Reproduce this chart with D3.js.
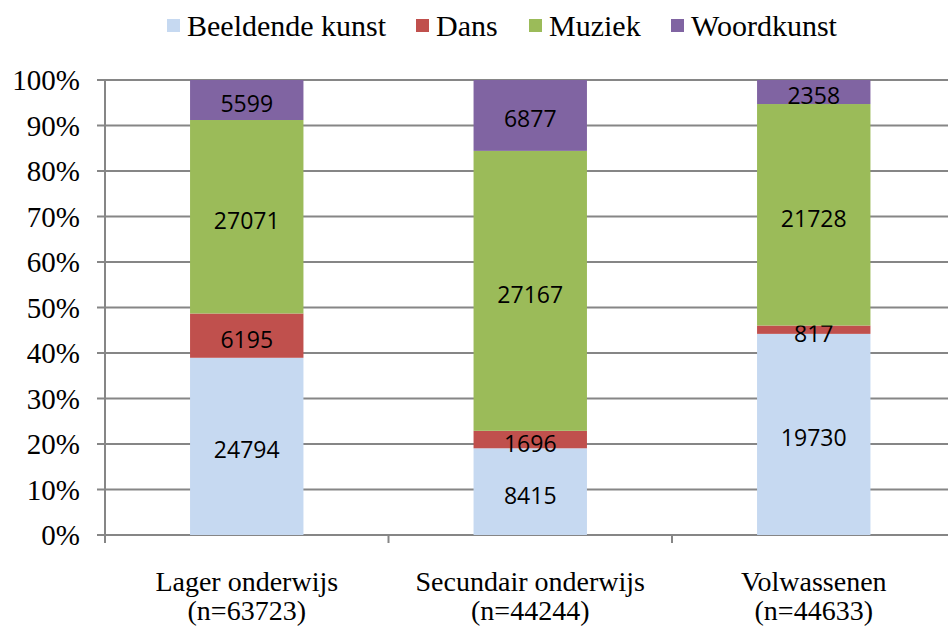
<!DOCTYPE html>
<html><head><meta charset="utf-8">
<script src="https://cdn.jsdelivr.net/npm/d3@7.9.0/dist/d3.min.js"></script></head>
<body style="margin:0">
<svg id="chart" width="948" height="628" style="display:block"></svg>
<script>
// categories and their sample sizes
const categories = ['Lager onderwijs', 'Secundair onderwijs', 'Volwassenen'];
const sampleSizes = [63723, 44244, 44633];

// series (stack order bottom -> top)
const seriesNames = ['Beeldende kunst', 'Dans', 'Muziek', 'Woordkunst'];
const seriesColors = ['#c6d9f1', '#c0504d', '#9bbb59', '#8064a2'];

// counts per category, one array per series
const beeldendeKunst = [24794, 8415, 19730];
const dans = [6195, 1696, 817];
const muziek = [27071, 27167, 21728];
const woordkunst = [5599, 6877, 2358];

const yTicks = [0, 0.1, 0.2, 0.3, 0.4, 0.5, 0.6, 0.7, 0.8, 0.9, 1];

const seriesValues = [beeldendeKunst, dans, muziek, woordkunst];

const svg = d3.select('#chart');
const width = 948;

const x = d3.scaleBand()
  .domain(categories)
  .range([105, 955.5])
  .padding(0);
const y = d3.scaleLinear().domain([0, 1]).range([535, 80]);

// build normalized stack rows
const rows = categories.map((c, i) => {
  const row = { category: c };
  seriesNames.forEach((s, j) => { row[s] = seriesValues[j][i]; });
  return row;
});
const stacked = d3.stack().keys(seriesNames).offset(d3.stackOffsetExpand)(rows);

const grid = '#868686';

// gridlines + y ticks
svg.append('g')
  .selectAll('line')
  .data(yTicks)
  .join('line')
  .attr('x1', 97)
  .attr('x2', width)
  .attr('y1', (d) => y(d))
  .attr('y2', (d) => y(d))
  .attr('stroke', grid)
  .attr('stroke-width', 2);

// y axis line
svg.append('line')
  .attr('x1', 105).attr('x2', 105)
  .attr('y1', y(1)).attr('y2', y(0) + 8)
  .attr('stroke', grid).attr('stroke-width', 2);

// category boundary ticks
svg.append('g')
  .selectAll('line')
  .data(categories.slice(1))
  .join('line')
  .attr('x1', (d) => x(d))
  .attr('x2', (d) => x(d))
  .attr('y1', y(0))
  .attr('y2', y(0) + 8)
  .attr('stroke', grid)
  .attr('stroke-width', 2);

// y labels
svg.selectAll('text.ylab')
  .data(yTicks)
  .join('text')
  .attr('class', 'ylab')
  .style('font-family', 'Liberation Serif')
  .attr('x', 80)
  .attr('y', (d) => y(d) + 10)
  .attr('text-anchor', 'end')
  .attr('font-size', 29)
  .text((d) => d3.format('.0%')(d));

// bars
const barW = x.bandwidth() * 0.4;
const layers = svg.append('g')
  .selectAll('g')
  .data(stacked)
  .join('g')
  .attr('fill', (d, i) => seriesColors[i]);

layers.selectAll('rect')
  .data((d) => d)
  .join('rect')
  .attr('x', (d) => x(d.data.category) + (x.bandwidth() - barW) / 2)
  .attr('width', barW)
  .attr('y', (d) => y(d[1]))
  .attr('height', (d) => y(d[0]) - y(d[1]));

// value labels
layers.selectAll('text')
  .data((d) => d.map((p) => ({ p, key: d.key })))
  .join('text')
  .style('font-family', 'Open Sans')
  .attr('x', (d) => x(d.p.data.category) + x.bandwidth() / 2)
  .attr('y', (d) => y((d.p[0] + d.p[1]) / 2) + 12)
  .attr('text-anchor', 'middle')
  .attr('font-size', 23)
  .attr('fill', '#000')
  .text((d) => d.p.data[d.key]);

// category labels, two lines each
const catLines = categories.flatMap((c, i) => [
  { c, text: c, y: 591 },
  { c, text: `(n=${sampleSizes[i]})`, y: 620 },
]);
svg.selectAll('text.cat')
  .data(catLines)
  .join('text')
  .attr('class', 'cat')
  .style('font-family', 'Liberation Serif')
  .attr('text-anchor', 'middle')
  .attr('font-size', 28)
  .attr('x', (d) => x(d.c) + x.bandwidth() / 2)
  .attr('y', (d) => d.y)
  .text((d) => d.text);

// legend
const legendX = [167, 416, 529, 671];
svg.selectAll('rect.leg')
  .data(seriesNames)
  .join('rect')
  .attr('class', 'leg')
  .attr('x', (d, i) => legendX[i]).attr('y', 19)
  .attr('width', 13).attr('height', 13)
  .attr('fill', (d, i) => seriesColors[i]);
svg.selectAll('text.leg')
  .data(seriesNames)
  .join('text')
  .attr('class', 'leg')
  .style('font-family', 'Liberation Serif')
  .attr('x', (d, i) => legendX[i] + 20).attr('y', 36)
  .attr('font-size', 30)
  .text((d) => d);
</script>
</body>
</html>
